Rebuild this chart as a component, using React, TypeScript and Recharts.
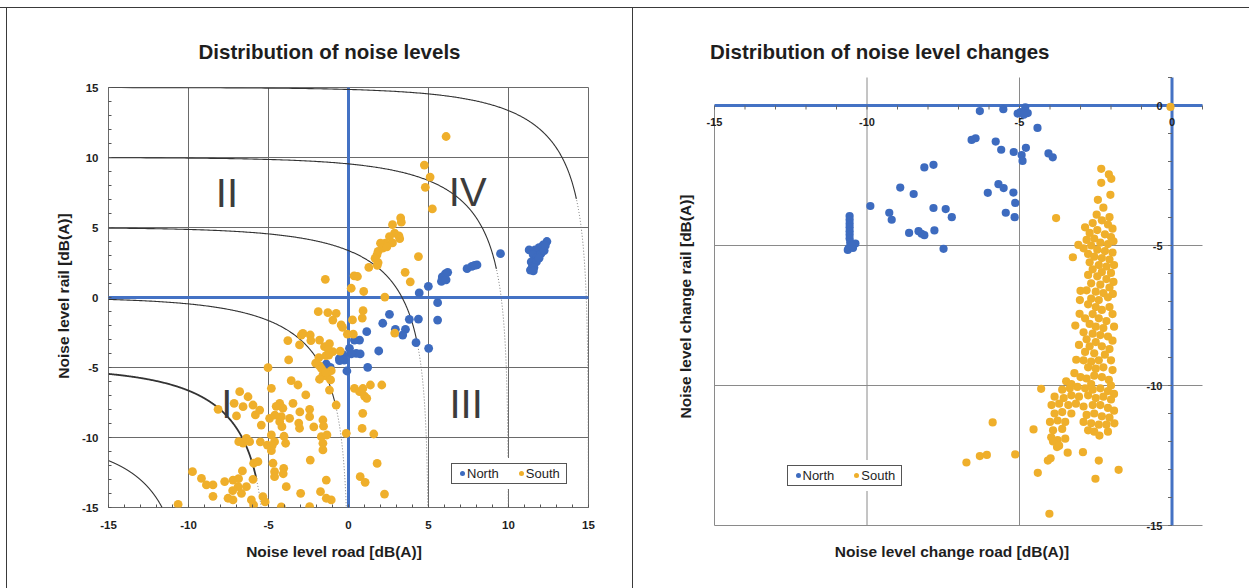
import {
  ScatterChart,
  Scatter,
  XAxis,
  YAxis,
  ReferenceLine,
  ReferenceDot,
  Legend,
} from "recharts";

type Pt = [number, number];

const FONT = '"Liberation Sans", Arial, Helvetica, sans-serif';
const NORTH = "#3D6BBF";
const SOUTH = "#EFAF2B";
const AXIS_BLUE = "#4472C4";
const INK = "#1e1e1e";

const seriesNames = ["North", "South"];

// ---- left panel: noise levels (road vs rail) ----
const levelNorth: Pt[] = [
  [9.5, 3.13], [12.4, 4.0], [12.16, 3.75], [11.91, 3.56], [11.66, 3.4], [11.29, 3.4],
  [11.54, 3.08], [11.79, 2.87], [11.42, 2.54], [11.49, 2.22], [11.37, 1.96], [12.03, 3.13],
  [12.23, 3.35], [11.74, 2.54], [11.59, 2.14], [11.91, 2.81], [12.3, 3.7], [11.55, 1.9],
  [7.41, 2.06], [7.71, 2.22], [8.03, 2.33], [7.88, 2.3],
  [5.86, 1.47], [6.05, 1.69], [5.81, 1.15], [6.1, 1.26], [6.2, 1.8],
  [4.99, 0.8], [4.42, 0.33],
  [5.57, -0.37], [5.57, -1.61], [5.01, -3.63], [4.37, -1.54], [3.8, -1.56], [4.22, -3.23],
  [2.56, -1.2], [2.14, -1.84], [2.93, -2.27], [3.56, -2.27], [3.39, -2.68], [1.89, -3.82],
  [1.14, -2.44], [1.2, -4.99], [-0.1, -5.25], [0.69, -3.04], [0.37, -3.04], [0.06, -3.63],
  [0.48, -3.99], [0.73, -4.03], [0.17, -4.02], [-0.32, -4.1], [-0.57, -4.37], [-0.27, -4.47],
  [-1.39, -4.75], [-1.14, -4.99], [-0.56, -4.51],
];

const levelSouth: Pt[] = [
  [6.1, 11.5], [4.74, 9.46], [5.1, 8.6], [4.8, 7.87], [5.24, 6.33], [3.26, 5.68], [3.3, 5.38],
  [2.75, 5.2], [2.88, 4.6], [3.15, 4.4], [2.56, 4.35], [3.2, 4.2], [2.31, 3.88], [2.0, 3.88],
  [2.75, 3.9], [2.14, 3.52], [2.4, 3.62], [1.85, 3.3], [1.78, 3.05], [1.66, 2.8], [1.85, 2.5],
  [1.8, 2.3], [4.37, 2.92], [1.27, 2.15], [3.54, 1.8], [3.86, 1.12], [-1.45, 1.3], [0.35, 1.55],
  [0.56, 1.5], [0.17, 0.66], [0.95, 0.43], [2.27, 0.03],
  [0.91, -0.94], [0.86, -1.47], [0.25, -1.6], [2.89, -2.54], [0.37, -6.49], [0.69, -6.73],
  [1.0, -7.04], [1.14, -7.2], [1.37, -6.25], [2.08, -6.25], [0.89, -8.27], [0.85, -9.35],
  [1.58, -9.75], [1.79, -11.85], [0.73, -12.8], [1.04, -13.2], [2.25, -14.04], [0.3, -2.62],
  [0.9, -6.5],
  [-10.65, -14.77], [-9.75, -12.44], [-9.19, -12.92], [-8.88, -13.39], [-8.47, -13.39],
  [-8.47, -14.2], [-8.15, -7.99], [-7.74, -13.15], [-7.15, -7.56], [-6.8, -6.73], [-6.59, -7.8],
  [-7.0, -8.46], [-6.28, -7.09], [-5.97, -7.68], [-5.82, -8.39], [-5.55, -8.04], [-5.45, -9.11],
  [-6.86, -10.3], [-6.59, -10.4], [-6.38, -10.06], [-6.18, -10.3], [-7.22, -13.04], [-6.9, -13.51],
  [-6.38, -13.51], [-6.69, -13.99], [-7.53, -14.34], [-7.22, -14.46], [-5.93, -11.84],
  [-5.66, -11.73], [-6.63, -12.39], [-5.97, -12.99], [-6.07, -14.46], [-5.93, -14.82],
  [-5.35, -14.23], [-5.03, -5.01], [-4.82, -6.49], [-4.93, -8.63], [-5.07, -10.54], [-4.82, -9.82],
  [-4.62, -10.3], [-4.82, -10.94], [-4.72, -11.84], [-4.62, -12.44], [-4.62, -12.8], [-4.05, -12.2],
  [-3.89, -13.51], [-4.3, -8.87], [-4.2, -8.51], [-4.3, -7.56], [-4.1, -7.91], [-4.16, -9.23],
  [-3.93, -10.41], [-3.68, -8.63], [-3.74, -4.46], [-3.79, -3.08], [-3.58, -5.94], [-3.16, -6.25],
  [-3.47, -7.56], [-3.06, -3.39], [-2.85, -2.56], [-2.43, -7.99], [-2.43, -8.51], [-3.06, -9.34],
  [-1.6, -8.75], [-1.7, -9.94], [-1.6, -10.41], [-1.35, -9.82], [-1.6, -10.89], [-2.39, -11.61],
  [-1.39, -13.04], [-1.75, -13.87], [-1.39, -14.34], [-1.08, -14.46], [-2.43, -14.94],
  [-2.99, -13.99], [-0.77, -7.68], [-0.14, -9.7], [-1.89, -1.01], [-1.29, -1.08], [-0.77, -1.13],
  [-0.98, -1.61], [-0.46, -1.96], [-2.95, -2.68], [-2.39, -2.68], [-1.81, -3.04], [-0.98, -3.87],
  [-1.5, -3.51], [-1.23, -4.11], [-1.08, -5.23], [-1.12, -5.89], [-1.35, -5.61], [-1.19, -6.61],
  [-1.6, -5.54], [-1.81, -4.89], [-1.81, -5.84],
  [-0.37, -2.14], [-0.07, -2.62], [-2.35, -3.08], [-1.19, -3.3], [-1.26, -3.7], [-0.52, -3.83],
  [-1.41, -4.15], [-1.85, -4.29], [-2.05, -4.69], [-1.68, -5.09], [-1.41, -5.36], [-2.67, -6.96],
  [-4.52, -7.77], [-4.6, -8.4], [-3.04, -8.17], [-3.11, -8.97], [-2.17, -9.24], [-1.56, -9.19],
  [-4.03, -9.91], [-5.51, -10.31], [-4.77, -10.58], [-6.87, -12.94], [-7.24, -13.8], [-5.21, -14.6],
  [-4.08, -12.59], [-4.2, -14.95],
];

// ---- right panel: noise level changes ----
const changeNorth: Pt[] = [
  [-6.3, -0.2], [-5.53, -0.13], [-5.06, -0.29], [-4.97, -0.24], [-4.81, -0.07], [-4.73, -0.27],
  [-4.86, -0.33], [-4.41, -0.8], [-6.57, -1.23], [-6.44, -1.17], [-5.78, -1.29], [-5.6, -1.58],
  [-5.19, -1.66], [-4.93, -1.77], [-4.9, -1.98], [-4.79, -1.51], [-4.05, -1.71], [-3.91, -1.85],
  [-8.12, -2.21], [-7.82, -2.12], [-8.91, -2.93], [-8.47, -3.16], [-9.89, -3.59], [-9.27, -3.83],
  [-9.19, -4.08], [-6.04, -3.12], [-5.69, -2.81], [-5.52, -2.95], [-5.2, -3.11], [-5.14, -3.48],
  [-5.45, -3.83], [-5.16, -3.99], [-7.82, -3.66], [-7.42, -3.7], [-7.22, -3.99], [-8.62, -4.55],
  [-8.31, -4.49], [-8.21, -4.58], [-8.12, -4.63], [-7.79, -4.46], [-7.49, -5.12],
  [-10.57, -3.95], [-10.57, -4.08], [-10.57, -4.22], [-10.57, -4.35], [-10.57, -4.49],
  [-10.57, -4.62], [-10.57, -4.75], [-10.55, -4.89], [-10.6, -5.09], [-10.63, -5.16],
  [-10.38, -4.93], [-10.46, -5.09], [-10.5, -5.0],
];

const changeSouth: Pt[] = [
  [-0.05, -0.05],
  [-2.32, -2.26], [-2.07, -2.46], [-1.99, -2.62], [-2.32, -2.76], [-2.02, -3.19], [-2.43, -3.37],
  [-2.25, -3.65], [-3.8, -4.02], [-2.47, -3.9], [-2.05, -3.99],
  [-2.85, -4.35], [-2.6, -4.2], [-2.3, -4.1], [-2.1, -4.25], [-1.95, -4.4], [-2.7, -4.55],
  [-2.45, -4.45], [-2.2, -4.6], [-2.0, -4.7], [-2.8, -4.8], [-2.55, -4.75], [-2.35, -4.9],
  [-2.1, -4.95], [-1.92, -4.85], [-2.65, -5.0], [-3.07, -4.98], [-2.9, -5.1],
  [-2.45, -5.15], [-2.2, -5.2], [-1.95, -5.25], [-2.75, -5.3], [-3.25, -5.42], [-2.55, -5.4],
  [-2.3, -5.45], [-2.05, -5.5], [-2.7, -5.6], [-2.4, -5.7], [-2.15, -5.75], [-1.9, -5.7],
  [-2.6, -5.85], [-2.3, -5.95], [-2.0, -5.98], [-2.75, -6.05],
  [-2.45, -6.1], [-2.15, -6.2], [-1.92, -6.3], [-2.65, -6.35], [-2.35, -6.4], [-2.05, -6.5],
  [-3.0, -6.62], [-2.8, -6.6], [-2.5, -6.65], [-2.25, -6.7], [-1.94, -6.73], [-3.02, -6.95],
  [-2.65, -6.9], [-2.4, -6.95], [-2.1, -6.85],
  [-2.75, -7.1], [-2.5, -7.2], [-2.05, -7.2], [-2.3, -7.3], [-1.95, -7.45], [-3.03, -7.44],
  [-2.6, -7.45], [-2.85, -7.6], [-2.4, -7.6], [-2.15, -7.7], [-3.17, -7.86], [-2.7, -7.8],
  [-2.5, -7.9], [-2.25, -7.95], [-1.9, -7.9],
  [-2.9, -8.1], [-2.6, -8.15], [-2.35, -8.2], [-2.1, -8.25], [-1.95, -8.4], [-2.8, -8.35],
  [-2.5, -8.45], [-3.05, -8.55], [-2.7, -8.6], [-2.3, -8.6], [-2.05, -8.7], [-2.85, -8.8],
  [-2.55, -8.85], [-2.2, -8.9], [-3.14, -9.08],
  [-2.9, -9.1], [-2.65, -9.15], [-2.4, -9.1], [-2.0, -9.1], [-3.2, -9.56], [-2.75, -9.35],
  [-2.5, -9.4], [-2.25, -9.35], [-1.95, -9.45], [-3.47, -9.85], [-3.0, -9.7], [-2.8, -9.75],
  [-2.55, -9.65], [-2.3, -9.7], [-2.07, -9.8], [-3.3, -9.95], [-2.65, -9.95], [-2.0, -10.0],
  [-4.29, -10.12], [-3.6, -10.15], [-3.35, -10.1], [-3.1, -10.05], [-2.85, -10.1], [-2.6, -10.15],
  [-2.35, -10.1], [-2.1, -10.2], [-1.9, -10.3],
  [-3.85, -10.4], [-3.55, -10.45], [-3.3, -10.35], [-3.05, -10.4], [-2.75, -10.35], [-2.5, -10.45],
  [-2.25, -10.4], [-2.0, -10.5],
  [-3.95, -10.7], [-3.7, -10.65], [-3.4, -10.7], [-3.15, -10.65], [-2.9, -10.75], [-2.6, -10.7],
  [-2.35, -10.7], [-2.1, -10.8], [-1.9, -10.9],
  [-3.85, -11.0], [-3.6, -10.95], [-3.3, -11.0], [-2.8, -11.05], [-2.55, -11.0], [-2.3, -11.1],
  [-2.05, -11.15],
  [-4.0, -11.3], [-3.75, -11.25], [-3.5, -11.3], [-2.9, -11.3], [-2.65, -11.35], [-2.4, -11.4],
  [-2.15, -11.4], [-1.89, -11.35],
  [-4.54, -11.57], [-3.9, -11.6], [-3.6, -11.55], [-2.75, -11.6], [-2.38, -11.79], [-2.55, -11.65],
  [-2.1, -11.65], [-3.96, -11.85], [-3.75, -11.95], [-3.5, -11.9], [-3.9, -12.0], [-3.77, -12.2],
  [-3.7, -12.15],
  [-3.42, -12.4], [-2.92, -12.38], [-4.07, -12.68], [-3.98, -12.6], [-2.4, -12.68], [-1.75, -13.01],
  [-4.4, -13.12], [-2.51, -13.33], [-4.02, -14.58], [-5.88, -11.32], [-5.14, -12.46],
  [-6.07, -12.48], [-6.3, -12.52], [-6.74, -12.75],
];

// ticks and reference values
const levelTicks = Array.from({ length: 31 }, (_, i) => i - 15);
const levelGrid = [-15, -10, -5, 5, 10, 15];
const isoLevels = [15, 10, 5, 0, -5, -10];
const quadrantLabels = [
  { text: "II", x: -7.6, y: 7.5 },
  { text: "IV", x: 7.45, y: 7.55 },
  { text: "I", x: -7.6, y: -7.6 },
  { text: "III", x: 7.35, y: -7.6 },
];

const changeMinor = Array.from({ length: 17 }, (_, i) => i - 15);
const changeXLabels = [-15, -10, -5, 0];
const changeYLabels = [0, -5, -10, -15];
const changeGridX = [-10, -5];
const changeGridY = [-5, -10, -15];

const toXY = (pts: Pt[]) => pts.map(([x, y]) => ({ x, y }));

// energetic-sum iso line: 10^(x/10) + 10^(y/10) = 10^(L/10)
function isoCurve(L: number) {
  const a = Math.min(1, Math.pow(10, (-15 - L) / 20));
  const t0 = Math.asin(a);
  const t1 = Math.acos(a);
  const solid: { x: number; y: number }[] = [];
  const dotted: { x: number; y: number }[] = [];
  const n = 500;
  for (let i = 0; i <= n; i++) {
    const t = t0 + ((t1 - t0) * i) / n;
    const x = L + 20 * Math.log10(Math.sin(t));
    const y = L + 20 * Math.log10(Math.cos(t));
    if (y >= L - 8) solid.push({ x, y });
    if (y <= L - 7.8) dotted.push({ x, y });
  }
  return { solid, dotted };
}

const dotShape = (r: number, fill: string) => (p: any) =>
  <circle cx={p.cx} cy={p.cy} r={r} fill={fill} />;

const noShape = () => <g />;

const LevelXTick = (p: any) => {
  const { x, y, payload } = p;
  return (
    <g>
      <line x1={x} x2={x} y1={y} y2={y - 3} stroke="#555" />
      {payload.value % 5 === 0 && (
        <text x={x} y={y + 21.5} textAnchor="middle" fontSize={11.5} fontWeight="bold" fill={INK} fontFamily={FONT}>
          {payload.value}
        </text>
      )}
    </g>
  );
};

const LevelYTick = (p: any) => {
  const { x, y, payload } = p;
  return (
    <g>
      <line x1={x} x2={x + 3} y1={y} y2={y} stroke="#555" />
      {payload.value % 5 === 0 && (
        <text x={x - 10} y={y + 4} textAnchor="end" fontSize={11.5} fontWeight="bold" fill={INK} fontFamily={FONT}>
          {payload.value}
        </text>
      )}
    </g>
  );
};

const LegendBox = () => (
  <div style={{ background: "#fff", padding: 5 }}>
    <div
      style={{
        border: "1px solid #555",
        height: 19,
        display: "flex",
        alignItems: "center",
        padding: "0 6px 0 8px",
        fontSize: 13,
        fontFamily: FONT,
        color: INK,
        whiteSpace: "nowrap",
        background: "#fff",
      }}
    >
      <span style={{ width: 5, height: 5, borderRadius: "50%", background: NORTH, marginRight: 2 }} />
      {seriesNames[0]}
      <span style={{ width: 5, height: 5, borderRadius: "50%", background: SOUTH, marginLeft: 20, marginRight: 2 }} />
      {seriesNames[1]}
    </div>
  </div>
);

function LevelChart() {
  const curves = isoLevels.map((L) => ({ L, ...isoCurve(L) }));
  return (
    <ScatterChart
      width={620}
      height={588}
      margin={{ top: 87.5, right: 31.5, bottom: 40.5, left: 48.5 }}
      style={{ position: "absolute", left: 0, top: 0 }}
    >
      <XAxis
        type="number"
        dataKey="x"
        domain={[-15, 15]}
        ticks={levelTicks}
        interval={0}
        tick={(p: any) => <LevelXTick {...p} />}
        tickLine={false}
        axisLine={false}
        tickSize={0}
        tickMargin={0}
        height={40}
        allowDataOverflow
      />
      <YAxis
        type="number"
        dataKey="y"
        domain={[-15, 15]}
        ticks={levelTicks}
        interval={0}
        tick={(p: any) => <LevelYTick {...p} />}
        tickLine={false}
        axisLine={false}
        tickSize={0}
        tickMargin={0}
        width={60}
        allowDataOverflow
      />
      {levelGrid.map((v) => (
        <ReferenceLine key={"gx" + v} x={v} stroke="#6a6a6a" strokeWidth={1} />
      ))}
      {levelGrid.map((v) => (
        <ReferenceLine key={"gy" + v} y={v} stroke="#6a6a6a" strokeWidth={1} />
      ))}
      {curves.map((c) => (
        <Scatter
          key={"cs" + c.L}
          data={c.solid}
          line={{ stroke: "#333", strokeWidth: c.L === -5 ? 1.8 : 1.1 }}
          shape={noShape}
          legendType="none"
          isAnimationActive={false}
        />
      ))}
      {curves.map((c) => (
        <Scatter
          key={"cd" + c.L}
          data={c.dotted}
          line={{ stroke: "#777", strokeWidth: 1, strokeDasharray: "1 2" }}
          shape={noShape}
          legendType="none"
          isAnimationActive={false}
        />
      ))}
      <ReferenceLine x={0} stroke={AXIS_BLUE} strokeWidth={3} />
      <ReferenceLine y={0} stroke={AXIS_BLUE} strokeWidth={3} />
      {quadrantLabels.map((q) => (
        <ReferenceDot
          key={q.text}
          x={q.x}
          y={q.y}
          r={1}
          shape={(p: any) => (
            <text x={p.cx} y={p.cy + 14} textAnchor="middle" fontSize={40} fill="#3c3c3c" fontFamily={FONT}>
              {q.text}
            </text>
          )}
        />
      ))}
      <Scatter name={seriesNames[0]} data={toXY(levelNorth)} fill={NORTH} shape={dotShape(4.4, NORTH)} isAnimationActive={false} />
      <Scatter name={seriesNames[1]} data={toXY(levelSouth)} fill={SOUTH} shape={dotShape(4.4, SOUTH)} isAnimationActive={false} />
      <Legend
        layout="vertical"
        align="center"
        verticalAlign="middle"
        content={() => <LegendBox />}
        wrapperStyle={{ left: 446, top: 458, width: "auto", height: "auto" }}
      />
    </ScatterChart>
  );
}

function ChangeChart() {
  return (
    <ScatterChart
      width={629}
      height={588}
      margin={{ top: 77.5, right: 46.5, bottom: 62.5, left: 94.5 }}
      style={{ position: "absolute", left: 620, top: 0 }}
    >
      <XAxis type="number" dataKey="x" domain={[-15, 1]} hide allowDataOverflow />
      <YAxis type="number" dataKey="y" domain={[-15, 1]} hide allowDataOverflow />
      <ReferenceLine segment={[{ x: -15, y: 0 }, { x: -15, y: -15 }]} stroke="#8a8a8a" />
      {changeGridX.map((v) => (
        <ReferenceLine key={"gx" + v} x={v} stroke="#8a8a8a" />
      ))}
      {changeGridY.map((v) => (
        <ReferenceLine key={"gy" + v} y={v} stroke="#8a8a8a" />
      ))}
      <ReferenceLine y={0} stroke={AXIS_BLUE} strokeWidth={3} />
      <ReferenceLine x={0} stroke={AXIS_BLUE} strokeWidth={3} />
      {changeMinor.map((v) => (
        <ReferenceDot
          key={"tx" + v}
          x={v}
          y={0}
          r={1}
          shape={(p: any) => <line x1={p.cx} x2={p.cx} y1={p.cy} y2={p.cy + 4} stroke="#666" />}
        />
      ))}
      {changeMinor.map((v) => (
        <ReferenceDot
          key={"ty" + v}
          x={0}
          y={v}
          r={1}
          shape={(p: any) => <line x1={p.cx} x2={p.cx - 4} y1={p.cy} y2={p.cy} stroke="#666" />}
        />
      ))}
      {changeXLabels.map((v) => (
        <ReferenceDot
          key={"lx" + v}
          x={v}
          y={0}
          r={1}
          shape={(p: any) => (
            <text x={p.cx} y={p.cy + 20.5} textAnchor="middle" fontSize={11} fontWeight="bold" fill={INK} fontFamily={FONT}>
              {v}
            </text>
          )}
        />
      ))}
      {changeYLabels.map((v) => (
        <ReferenceDot
          key={"ly" + v}
          x={0}
          y={v}
          r={1}
          shape={(p: any) => (
            <text x={p.cx - 9.5} y={p.cy + 4} textAnchor="end" fontSize={11} fontWeight="bold" fill={INK} fontFamily={FONT}>
              {v}
            </text>
          )}
        />
      ))}
      <Scatter name={seriesNames[0]} data={toXY(changeNorth)} fill={NORTH} shape={dotShape(4.1, NORTH)} isAnimationActive={false} />
      <Scatter name={seriesNames[1]} data={toXY(changeSouth)} fill={SOUTH} shape={dotShape(4.1, SOUTH)} isAnimationActive={false} />
      <Legend
        layout="vertical"
        align="center"
        verticalAlign="middle"
        content={() => <LegendBox />}
        wrapperStyle={{ left: 161.5, top: 460, width: "auto", height: "auto" }}
      />
    </ScatterChart>
  );
}

export default function App() {
  const titleStyle = { fontFamily: FONT, fontWeight: "bold" as const, fill: INK };
  return (
    <div
      style={{
        position: "absolute",
        left: 0,
        top: 0,
        width: 1249,
        height: 588,
        background: "#fff",
        overflow: "hidden",
      }}
    >
      <LevelChart />
      <ChangeChart />
      <svg width={1249} height={588} style={{ position: "absolute", left: 0, top: 0, pointerEvents: "none" }}>
        <line x1={0} x2={1249} y1={7.5} y2={7.5} stroke="#3a3a3a" />
        <line x1={6.5} x2={6.5} y1={7.5} y2={588} stroke="#3a3a3a" />
        <line x1={632.5} x2={632.5} y1={7.5} y2={588} stroke="#3a3a3a" />
        <text x={329.5} y={59} textAnchor="middle" fontSize={20.5} {...titleStyle}>
          Distribution of noise levels
        </text>
        <text x={710} y={59} textAnchor="start" fontSize={20.5} {...titleStyle}>
          Distribution of noise level changes
        </text>
        <text x={334} y={557} textAnchor="middle" fontSize={15.5} {...titleStyle}>
          Noise level road [dB(A)]
        </text>
        <text x={952} y={557} textAnchor="middle" fontSize={15.5} {...titleStyle}>
          Noise level change road [dB(A)]
        </text>
        <text x={0} y={0} textAnchor="middle" fontSize={15.5} transform="translate(68.5 296) rotate(-90)" {...titleStyle}>
          Noise level rail [dB(A)]
        </text>
        <text x={0} y={0} textAnchor="middle" fontSize={15.5} transform="translate(691 306.5) rotate(-90)" {...titleStyle}>
          Noise level change rail [dB(A)]
        </text>
      </svg>
    </div>
  );
}
